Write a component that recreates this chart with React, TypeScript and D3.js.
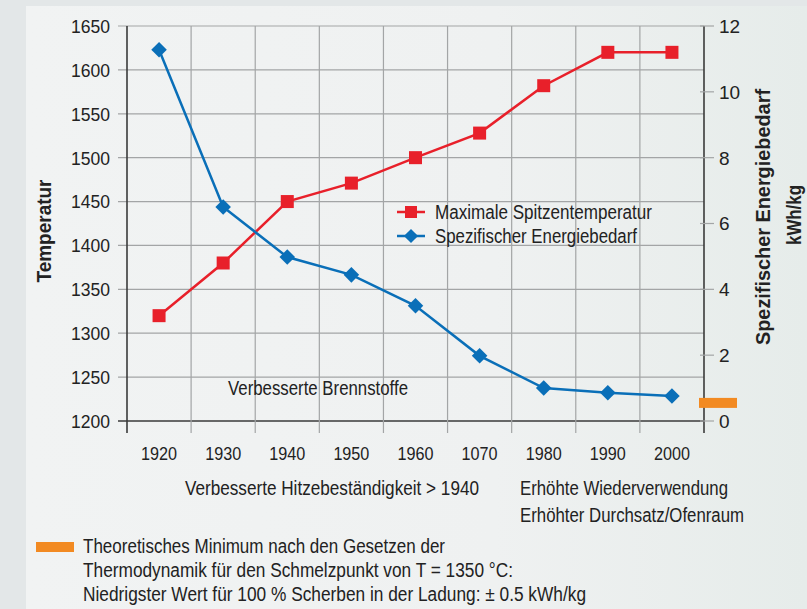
import React from "react";
import * as d3 from "d3";

const categories = ["1920", "1930", "1940", "1950", "1960", "1070", "1980", "1990", "2000"];
const temperature = [1320, 1380, 1450, 1471, 1500, 1528, 1582, 1620, 1620];
const energy = [11.28, 6.5, 4.98, 4.44, 3.5, 1.98, 1.0, 0.86, 0.76];
const leftTicks = [1200, 1250, 1300, 1350, 1400, 1450, 1500, 1550, 1600, 1650];
const rightTicks = [0, 2, 4, 6, 8, 10, 12];
const theoreticalMin = 0.55;
const seriesNames = ["Maximale Spitzentemperatur", "Spezifischer Energiebedarf"];
const bottomNotes = [
  "Verbesserte Hitzebeständigkeit > 1940",
  "Erhöhte Wiederverwendung",
  "Erhöhter Durchsatz/Ofenraum",
];
const footnote = [
  "Theoretisches Minimum nach den Gesetzen der",
  "Thermodynamik für den Schmelzpunkt von T = 1350 °C:",
  "Niedrigster Wert für 100 % Scherben in der Ladung: ± 0.5 kWh/kg",
];

const FONT = "'Liberation Sans', Arial, sans-serif";
const RED = "#e8202a";
const BLUE = "#0a6fb8";
const ORANGE = "#f28a22";
const GRID = "#a3a5a6";
const AXIS = "#3a3a3a";
const TEXT = "#222";

export default function App() {
  const W = 807, H = 609;
  const left = 127, right = 704, top = 26, bottom = 421;
  const x = d3.scaleBand<string>().domain(categories).range([left, right]);
  const yL = d3.scaleLinear().domain([1200, 1650]).range([bottom, top]);
  const yR = d3.scaleLinear().domain([0, 12]).range([bottom, top]);
  const cx = (c: string) => (x(c) as number) + x.bandwidth() / 2;

  const lineT = d3.line<number>().x((_, i) => cx(categories[i])).y((d) => yL(d));
  const lineE = d3.line<number>().x((_, i) => cx(categories[i])).y((d) => yR(d));

  const boundaries = categories.map((c) => x(c) as number).concat([right]);
  const fit = { lengthAdjust: "spacingAndGlyphs" as const };

  return (
    <div style={{ position: "absolute", left: 0, top: 0 }}>
      <svg width={W} height={H} style={{ display: "block", fontFamily: FONT }}>
        <defs>
          <linearGradient id="panel" x1="0" y1="0" x2="1" y2="0">
            <stop offset="0" stopColor="#f1f3f3" />
            <stop offset="0.6" stopColor="#eff1f1" />
            <stop offset="1" stopColor="#e6ecea" />
          </linearGradient>
        </defs>
        <rect x={0} y={0} width={W} height={H} fill="#e3e7e8" />
        <rect x={26} y={6} width={W - 26} height={H - 6} fill="url(#panel)" />

        {leftTicks.map((t) => (
          <line key={"h" + t} x1={118} x2={right} y1={yL(t)} y2={yL(t)} stroke={t === 1200 ? AXIS : GRID} strokeWidth={t === 1200 ? 1.6 : 1.2} />
        ))}
        {boundaries.map((b, i) => (
          <line key={"v" + i} x1={b} x2={b} y1={top} y2={433} stroke={i === 0 || i === boundaries.length - 1 ? AXIS : GRID} strokeWidth={i === 0 || i === boundaries.length - 1 ? 1.6 : 1.2} />
        ))}
        {rightTicks.map((t) => (
          <line key={"r" + t} x1={700} x2={714} y1={yR(t)} y2={yR(t)} stroke={GRID} strokeWidth={1.2} />
        ))}

        {leftTicks.map((t) => (
          <text key={"lt" + t} x={110} y={yL(t)} dy="0.36em" textAnchor="end" fontSize={19} fill={TEXT} textLength={39} {...fit}>{t}</text>
        ))}
        {rightTicks.map((t) => (
          <text key={"rt" + t} x={719} y={yR(t)} dy="0.36em" textAnchor="start" fontSize={19} fill={TEXT}>{t}</text>
        ))}
        {categories.map((c) => (
          <text key={"c" + c} x={cx(c)} y={460} textAnchor="middle" fontSize={19} fill={TEXT} textLength={36} {...fit}>{c}</text>
        ))}

        <text transform={`translate(51,231) rotate(-90)`} textAnchor="middle" fontSize={21} fontWeight="bold" fill={TEXT} textLength={103} {...fit}>Temperatur</text>
        <text transform={`translate(770,217) rotate(-90)`} textAnchor="middle" fontSize={21} fontWeight="bold" fill={TEXT} textLength={256} {...fit}>Spezifischer Energiebedarf</text>
        <text transform={`translate(801,215) rotate(-90)`} textAnchor="middle" fontSize={21} fontWeight="bold" fill={TEXT} textLength={60} {...fit}>kWh/kg</text>

        <rect x={699} y={yR(theoreticalMin) - 5} width={38} height={10} fill={ORANGE} />

        <path d={lineT(temperature) || ""} fill="none" stroke={RED} strokeWidth={2.5} />
        <path d={lineE(energy) || ""} fill="none" stroke={BLUE} strokeWidth={2.5} />
        {temperature.map((v, i) => (
          <rect key={"m" + i} x={cx(categories[i]) - 6.5} y={yL(v) - 6.5} width={13} height={13} fill={RED} />
        ))}
        {energy.map((v, i) => (
          <rect key={"d" + i} x={-5.5} y={-5.5} width={11} height={11} fill={BLUE}
            transform={`translate(${cx(categories[i])},${yR(v)}) rotate(45)`} />
        ))}

        <line x1={397} x2={425} y1={212} y2={212} stroke={RED} strokeWidth={2.5} />
        <rect x={405} y={206} width={12} height={12} fill={RED} />
        <text x={435} y={219} fontSize={20} fill={TEXT} textLength={217} {...fit}>{seriesNames[0]}</text>
        <line x1={397} x2={425} y1={236} y2={236} stroke={BLUE} strokeWidth={2.5} />
        <rect x={-5} y={-5} width={10} height={10} fill={BLUE} transform="translate(411,236) rotate(45)" />
        <text x={435} y={243} fontSize={20} fill={TEXT} textLength={202} {...fit}>{seriesNames[1]}</text>

        <text x={228} y={395} fontSize={20} fill={TEXT} textLength={180} {...fit}>Verbesserte Brennstoffe</text>
        <text x={185} y={495} fontSize={20} fill={TEXT} textLength={294} {...fit}>{bottomNotes[0]}</text>
        <text x={520} y={495} fontSize={20} fill={TEXT} textLength={208} {...fit}>{bottomNotes[1]}</text>
        <text x={520} y={522} fontSize={20} fill={TEXT} textLength={224} {...fit}>{bottomNotes[2]}</text>

        <rect x={36} y={542} width={38} height={10} fill={ORANGE} />
        {footnote.map((l, i) => (
          <text key={"f" + i} x={83} y={553 + i * 24} fontSize={20} fill={TEXT} textLength={[362, 430, 503][i]} {...fit}>{l}</text>
        ))}
      </svg>
    </div>
  );
}
